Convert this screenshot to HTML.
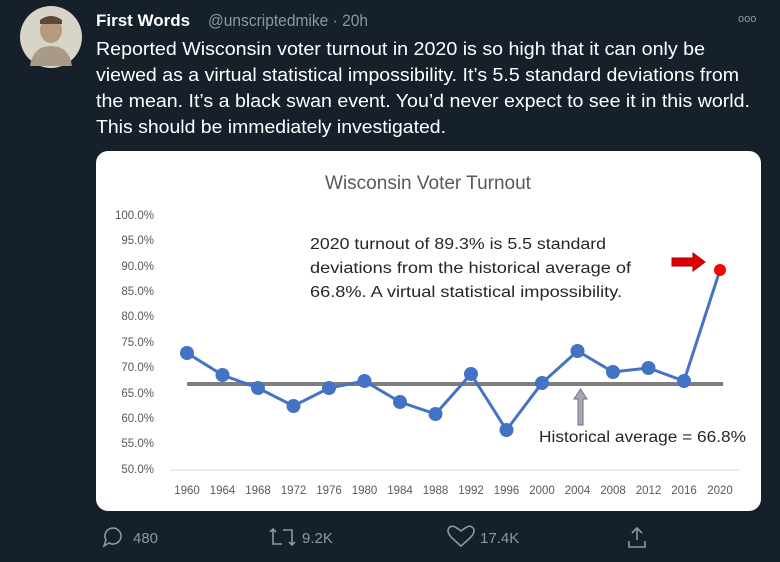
<!DOCTYPE html>
<html><head><meta charset="utf-8"><style>
html,body{margin:0;padding:0;background:#15202b;}
svg{display:block;}
</style></head><body>
<svg width="780" height="562" viewBox="0 0 780 562" xmlns="http://www.w3.org/2000/svg" font-family="Liberation Sans, sans-serif">
<rect width="780" height="562" fill="#15202b"/>
<!-- avatar -->
<circle cx="51" cy="37" r="31" fill="#d9d4c8"/>
<ellipse cx="51" cy="30" rx="11" ry="13" fill="#b59a80"/>
<path d="M30 66 Q33 46 51 46 Q69 46 72 66 Z" fill="#a89a84"/>
<path d="M40 20 Q51 12 62 20 L62 24 L40 24Z" fill="#5a4a3a"/>
<!-- header -->
<text x="96" y="26" font-size="17" font-weight="bold" fill="#ffffff">First Words</text>
<text x="208" y="26" font-size="17" fill="#8899a6" textLength="160" lengthAdjust="spacingAndGlyphs">@unscriptedmike · 20h</text>
<text x="738" y="22" font-size="11" fill="#8899a6">ooo</text>
<g font-size="18" fill="#ffffff">
<text x="96" y="55" textLength="609" lengthAdjust="spacingAndGlyphs">Reported Wisconsin voter turnout in 2020 is so high that it can only be</text>
<text x="96" y="81" textLength="643" lengthAdjust="spacingAndGlyphs">viewed as a virtual statistical impossibility. It’s 5.5 standard deviations from</text>
<text x="96" y="107" textLength="654" lengthAdjust="spacingAndGlyphs">the mean.  It’s a black swan event. You’d never expect to see it in this world.</text>
<text x="96" y="133" textLength="350" lengthAdjust="spacingAndGlyphs">This should be immediately investigated.</text>
</g>
<!-- card -->
<rect x="96" y="151" width="665" height="360" rx="12" fill="#ffffff"/>
<text x="428" y="189" font-size="19" fill="#595959" text-anchor="middle">Wisconsin Voter Turnout</text>
<g font-size="11.5" fill="#595959" text-anchor="end">
<text x="154" y="219">100.0%</text><text x="154" y="244">95.0%</text><text x="154" y="270">90.0%</text>
<text x="154" y="295">85.0%</text><text x="154" y="320">80.0%</text><text x="154" y="346">75.0%</text>
<text x="154" y="371">70.0%</text><text x="154" y="397">65.0%</text><text x="154" y="422">60.0%</text>
<text x="154" y="447">55.0%</text><text x="154" y="473">50.0%</text>
</g>
<line x1="170" y1="470" x2="740" y2="470" stroke="#d9d9d9" stroke-width="1"/>
<g font-size="11.5" fill="#595959" text-anchor="middle">
<text x="187" y="494">1960</text><text x="222.5" y="494">1964</text><text x="258" y="494">1968</text><text x="293.5" y="494">1972</text>
<text x="329" y="494">1976</text><text x="364.5" y="494">1980</text><text x="400" y="494">1984</text><text x="435.5" y="494">1988</text>
<text x="471" y="494">1992</text><text x="506.5" y="494">1996</text><text x="542" y="494">2000</text><text x="577.5" y="494">2004</text>
<text x="613" y="494">2008</text><text x="648.5" y="494">2012</text><text x="684" y="494">2016</text><text x="720" y="494">2020</text>
</g>
<line x1="187" y1="384" x2="723" y2="384" stroke="#7f7f7f" stroke-width="4"/>
<polyline fill="none" stroke="#4472c4" stroke-width="3" points="187,353 222.5,375 258,388 293.5,406 329,388 364.5,381 400,402 435.5,414 471,374 506.5,430 542,383 577.5,351 613,372 648.5,368 684,381 720,270"/>
<g fill="#4472c4">
<circle cx="187" cy="353" r="7"/><circle cx="222.5" cy="375" r="7"/><circle cx="258" cy="388" r="7"/><circle cx="293.5" cy="406" r="7"/>
<circle cx="329" cy="388" r="7"/><circle cx="364.5" cy="381" r="7"/><circle cx="400" cy="402" r="7"/><circle cx="435.5" cy="414" r="7"/>
<circle cx="471" cy="374" r="7"/><circle cx="506.5" cy="430" r="7"/><circle cx="542" cy="383" r="7"/><circle cx="577.5" cy="351" r="7"/>
<circle cx="613" cy="372" r="7"/><circle cx="648.5" cy="368" r="7"/><circle cx="684" cy="381" r="7"/>
</g>
<circle cx="720" cy="270" r="6" fill="#ff0000"/>
<path d="M672 258 L693 258 L693 253 L705 262 L693 271 L693 266 L672 266Z" fill="#e00000" stroke="#a00000" stroke-width="1"/>
<path d="M578 425 L578 399 L574 399 L580.5 389 L587 399 L583 399 L583 425Z" fill="#a6a6b8" stroke="#707080" stroke-width="1"/>
<g font-size="15.5" fill="#262626">
<text x="310" y="249" textLength="296" lengthAdjust="spacingAndGlyphs">2020  turnout of 89.3% is 5.5 standard</text>
<text x="310" y="273" textLength="321" lengthAdjust="spacingAndGlyphs">deviations from the historical average of</text>
<text x="310" y="297" textLength="312" lengthAdjust="spacingAndGlyphs">66.8%. A virtual statistical impossibility.</text>
<text x="539" y="442" textLength="207" lengthAdjust="spacingAndGlyphs">Historical average = 66.8%</text>
</g>
<!-- actions -->
<g fill="none" stroke="#8899a6" stroke-width="1.6">
<path d="M104 546 L106 540 A8 8 0 1 1 109 543 Z"/>
<path d="M270 532 L273 529 L276 532 M273 529 L273 544 L282 544 M289 542 L292 545 L295 542 M292 545 L292 530 L283 530"/>
<path d="M461 546 C453 539 448 535 448 531 C448 527 452 525 455 527 C457 528 461 531 461 531 C461 531 465 528 467 527 C470 525 474 527 474 531 C474 535 469 539 461 546 Z"/>
<path d="M637 540 L637 529 M632 533 L637 528 L642 533 M629 541 L629 547 L645 547 L645 541"/>
</g>
<g font-size="15" fill="#8899a6">
<text x="133" y="543">480</text><text x="302" y="543">9.2K</text><text x="480" y="543">17.4K</text>
</g>
</svg>
</body></html>
